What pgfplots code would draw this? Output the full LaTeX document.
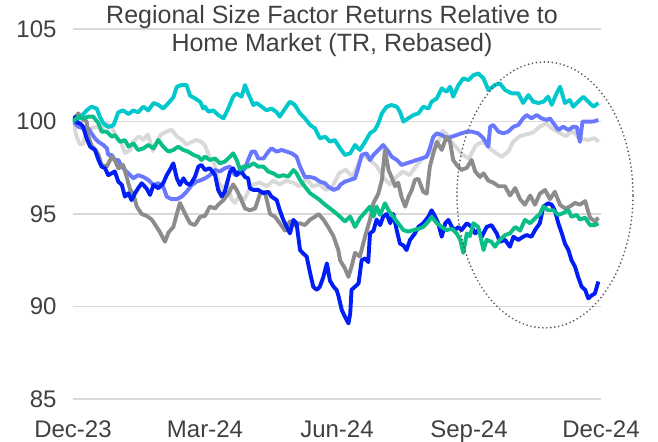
\documentclass[border=0pt]{standalone}
\usepackage{fontspec}
\setmainfont{Liberation Sans}
\usepackage{pgfplots}
\pgfplotsset{compat=1.18}

\definecolor{labgray}{RGB}{64,64,64}
\definecolor{gridgray}{RGB}{217,217,217}
\definecolor{ccyan}{RGB}{0,200,205}
\definecolor{cperi}{RGB}{105,120,255}
\definecolor{clgray}{RGB}{217,217,217}
\definecolor{cdgray}{RGB}{140,140,140}
\definecolor{cgreen}{RGB}{10,190,135}
\definecolor{cblue}{RGB}{0,30,245}
\definecolor{ringgray}{RGB}{90,90,90}

\begin{document}
\begin{tikzpicture}
\useasboundingbox (-73bp,-43bp) rectangle (585bp,399bp);
\begin{axis}[
    name=ax,
    at={(0,0)}, anchor=south west,
    scale only axis, width=528bp, height=370bp,
    xmin=0, xmax=12, ymin=85, ymax=105,
    xtick={0,3,6,9,12},
    xticklabels={Dec-23,Mar-24,Jun-24,Sep-24,Dec-24},
    ytick={85,90,95,100,105},
    axis line style={draw=none},
    major tick length=0pt,
    ymajorgrids,
    grid style={line width=1.5bp, color=gridgray},
    tick label style={font=\fontsize{24bp}{28bp}\selectfont, text=labgray},
    /pgf/number format/assume math mode=true,
    yticklabel style={xshift=-13bp},
    xticklabel style={yshift=-18bp},
    every axis plot/.append style={line width=3.9bp, line join=round, no markers},
]

% light gray
\addplot[clgray] coordinates {
(0,100.0) (0.08,99.2) (0.16,98.75) (0.23,98.8) (0.3,99.45) (0.42,99.65) (0.55,99.7) (0.65,99.6) (0.77,99.9) (0.88,99.7)
(1.0,99.1) (1.1,98.8) (1.18,98.3) (1.3,98.45) (1.37,98.9) (1.5,99.2) (1.6,99.0) (1.7,99.3) (1.82,98.4) (1.9,98.9)
(2.0,99.3) (2.13,99.45) (2.24,99.55) (2.36,99.2) (2.48,99.0) (2.58,98.75) (2.7,98.9) (2.81,99.0) (2.92,98.9)
(3.0,98.7) (3.1,98.1) (3.2,97.8) (3.3,96.8) (3.4,96.3) (3.5,96.7) (3.6,95.8) (3.68,95.6) (3.78,96.0) (3.9,95.8)
(4.0,96.3) (4.1,96.6) (4.25,96.7) (4.4,96.5) (4.55,96.8) (4.7,96.6) (4.85,96.8) (5.0,96.7) (5.15,96.5) (5.3,96.9)
(5.45,96.5) (5.6,96.6) (5.75,96.3) (5.9,96.5) (6.05,97.2) (6.2,97.4) (6.35,97.0) (6.5,97.8) (6.6,98.2) (6.75,97.9)
(6.9,97.6) (7.05,97.0) (7.2,96.6) (7.35,97.0) (7.5,97.3) (7.65,97.1) (7.8,97.6) (7.95,98.0) (8.1,98.3) (8.25,98.6)
(8.4,99.5) (8.5,99.3) (8.6,98.9) (8.75,98.5) (8.85,98.2) (9.0,98.0) (9.15,98.7) (9.3,98.9) (9.45,98.6) (9.6,98.3)
(9.75,98.1) (9.9,98.4) (10.0,98.9) (10.15,99.2) (10.3,99.3) (10.45,99.4) (10.6,99.7) (10.75,99.9) (10.9,99.6)
(11.05,99.4) (11.2,99.2) (11.35,99.5) (11.5,99.1) (11.7,99.0) (11.85,99.1) (11.95,98.9)
};

% periwinkle
\addplot[cperi] coordinates {
(0,100.0) (0.12,99.72) (0.23,99.63) (0.35,99.63) (0.42,99.36) (0.50,99.09) (0.58,98.9) (0.69,98.73) (0.77,98.55)
(0.80,98.2) (0.88,98.19) (0.95,97.92) (1.03,97.92) (1.11,97.56) (1.18,97.38) (1.30,97.1) (1.37,96.93) (1.48,97.1)
(1.60,97.0) (1.71,96.84) (1.83,96.57) (1.94,96.66) (2.05,96.48) (2.13,95.94) (2.24,95.8) (2.36,95.8) (2.47,95.94)
(2.58,96.2) (2.70,96.57) (2.81,96.75) (2.92,96.84) (3.0,96.93) (3.11,97.1) (3.23,97.38) (3.34,97.3) (3.45,97.47)
(3.57,97.56) (3.68,97.1) (3.80,97.2) (3.91,97.47) (3.98,97.92) (4.06,98.37) (4.14,98.37) (4.21,98.0) (4.33,98.0)
(4.44,98.37) (4.51,98.55) (4.63,98.37) (4.74,98.46) (4.86,98.37) (4.97,98.28) (5.08,98.1) (5.16,97.56) (5.27,97.0)
(5.39,97.0) (5.50,96.93) (5.61,96.75) (5.73,96.66) (5.80,96.48) (5.92,96.3) (6.03,96.4) (6.07,96.57) (6.18,96.75)
(6.30,96.84) (6.41,96.93) (6.49,97.56) (6.56,98.19) (6.67,98.28) (6.75,97.92) (6.83,98.19) (6.94,98.46) (7.05,98.73)
(7.17,98.37) (7.24,98.1) (7.36,97.92) (7.47,97.65) (7.58,97.74) (7.70,97.83) (7.81,97.92) (7.92,98.0) (8.04,98.1)
(8.11,98.55) (8.19,99.18) (8.27,99.36) (8.38,99.27) (8.49,99.09) (8.61,99.18) (8.72,99.27) (8.83,99.36) (8.95,99.45)
(9.06,99.45) (9.21,99.36) (9.33,99.09) (9.44,98.64) (9.48,99.72) (9.55,99.81) (9.67,99.45) (9.78,99.36) (9.89,99.45)
(10.01,99.72) (10.12,99.81) (10.23,100.17) (10.31,100.35) (10.42,100.17) (10.54,100.35) (10.65,100.17) (10.77,100.08)
(10.84,100.17) (10.92,99.9) (11.03,99.54) (11.14,99.72) (11.26,99.54) (11.37,99.72) (11.45,99.7) (11.52,98.9)
(11.58,100.0) (11.71,99.99) (11.83,100.0) (11.94,100.08)
};

% dark gray
\addplot[cdgray] coordinates {
(0,100.0) (0.12,100.44) (0.23,100.1) (0.31,100.0) (0.35,99.2) (0.42,98.7) (0.50,98.5) (0.58,98.2) (0.65,97.65)
(0.77,97.56) (0.88,98.1) (0.95,97.92) (1.03,97.47) (1.14,97.65) (1.22,97.0) (1.30,96.3) (1.37,96.1) (1.45,95.4)
(1.56,95.0) (1.67,94.9) (1.79,94.7) (1.90,94.3) (1.98,94.0) (2.09,93.5) (2.17,94.0) (2.28,94.3) (2.36,95.0)
(2.43,95.6) (2.55,95.0) (2.66,94.5) (2.77,94.4) (2.89,94.85) (3.0,94.9) (3.11,95.4) (3.23,95.3) (3.30,95.5)
(3.42,95.75) (3.53,96.1) (3.64,96.6) (3.72,96.3) (3.80,95.9) (3.91,95.3) (4.02,95.2) (4.14,95.3) (4.25,96.1)
(4.36,96.2) (4.48,95.0) (4.59,94.85) (4.70,94.5) (4.82,94.1) (4.93,94.6) (5.04,94.4) (5.16,94.5) (5.27,94.4)
(5.39,94.7) (5.50,94.85) (5.58,95.0) (5.69,94.7) (5.80,94.3) (5.92,93.8) (6.03,93.05) (6.07,92.5) (6.18,92.06)
(6.26,91.6) (6.33,92.15) (6.41,92.9) (6.52,92.7) (6.64,93.8) (6.75,94.7) (6.83,95.6) (6.94,96.1) (7.02,96.84)
(7.09,98.46) (7.17,97.38) (7.24,97.0) (7.32,96.5) (7.39,96.7) (7.47,95.9) (7.55,95.4) (7.62,95.9) (7.70,96.3)
(7.77,96.84) (7.85,96.9) (7.96,96.2) (8.04,96.1) (8.11,97.56) (8.19,98.28) (8.27,98.9) (8.38,98.46) (8.49,99.18)
(8.57,98.9) (8.64,97.92) (8.72,97.65) (8.83,97.38) (8.95,97.5) (9.06,97.92) (9.14,97.3) (9.25,97.0) (9.33,97.2)
(9.44,96.8) (9.55,96.7) (9.67,96.5) (9.82,96.5) (9.93,96.0) (10.05,96.4) (10.16,95.8) (10.27,95.5) (10.39,96.0)
(10.50,95.5) (10.61,96.1) (10.73,96.3) (10.84,95.8) (10.95,96.2) (11.07,95.5) (11.18,95.3) (11.29,95.4) (11.41,95.6)
(11.52,95.5) (11.64,95.7) (11.75,94.8) (11.86,94.6) (11.94,94.8)
};

% cyan
\addplot[ccyan] coordinates {
(0,100.0) (0.16,100.2) (0.31,100.6) (0.42,100.8) (0.54,100.7) (0.61,100.26) (0.69,99.9) (0.80,99.7) (0.92,99.8)
(1.03,100.5) (1.14,100.6) (1.26,100.4) (1.37,100.6) (1.48,100.5) (1.60,100.8) (1.71,100.6) (1.83,101.0) (1.94,100.9)
(2.05,100.7) (2.17,101.0) (2.28,101.3) (2.36,101.88) (2.47,101.97) (2.58,101.97) (2.66,101.4) (2.77,101.25)
(2.89,101.07) (2.96,100.7) (3.0,100.8) (3.08,100.53) (3.19,100.6) (3.30,100.35) (3.42,100.17) (3.53,100.71)
(3.64,101.34) (3.72,101.52) (3.83,101.34) (3.91,101.97) (3.98,101.52) (4.10,100.89) (4.17,101.0) (4.29,100.8)
(4.40,100.6) (4.51,100.7) (4.63,100.5) (4.70,100.26) (4.82,100.7) (4.93,101.07) (5.04,100.9) (5.16,100.44)
(5.27,100.17) (5.39,99.81) (5.50,99.63) (5.61,99.09) (5.73,99.18) (5.84,98.91) (5.95,99.0) (6.07,98.55)
(6.18,98.19) (6.30,98.28) (6.41,98.73) (6.52,98.46) (6.64,98.91) (6.75,99.36) (6.86,99.54) (6.94,99.9) (7.02,100.44)
(7.13,100.8) (7.24,100.89) (7.36,100.8) (7.43,100.53) (7.51,99.99) (7.62,100.17) (7.74,100.35) (7.85,100.44)
(7.96,100.8) (8.08,100.7) (8.15,101.07) (8.27,101.25) (8.38,101.79) (8.49,101.61) (8.57,101.88) (8.64,101.34)
(8.76,101.97) (8.87,102.33) (8.99,102.24) (9.10,102.5) (9.21,102.6) (9.33,102.33) (9.44,101.7) (9.59,101.97)
(9.70,102.06) (9.82,101.7) (9.97,101.52) (10.12,101.52) (10.23,101.0) (10.35,101.43) (10.46,101.07) (10.58,101.0)
(10.69,101.07) (10.80,101.34) (10.88,100.9) (10.99,101.52) (11.07,101.88) (11.18,101.0) (11.29,101.16) (11.37,100.8)
(11.48,101.07) (11.60,101.34) (11.71,101.07) (11.83,100.8) (11.94,101.0)
};

% blue
\addplot[cblue] coordinates {
(0,100.0) (0.05,100.26) (0.08,99.95) (0.16,99.9) (0.23,99.72) (0.31,99.09) (0.39,98.64) (0.50,98.46) (0.58,97.92)
(0.65,97.56) (0.73,97.47) (0.80,97.1) (0.88,97.2) (0.95,97.3) (1.03,96.75) (1.11,96.57) (1.18,95.94) (1.26,96.12)
(1.33,95.75) (1.41,96.12) (1.48,96.39) (1.56,96.66) (1.67,96.39) (1.75,96.03) (1.83,96.57) (1.94,96.39) (2.05,96.66)
(2.13,97.1) (2.20,97.38) (2.28,97.74) (2.36,96.93) (2.43,96.57) (2.51,96.93) (2.58,96.66) (2.66,96.57) (2.77,97.0)
(2.85,97.56) (2.92,97.65) (3.0,97.38) (3.11,97.47) (3.23,97.1) (3.30,96.3) (3.38,95.94) (3.45,96.2) (3.57,97.29)
(3.64,97.47) (3.72,97.1) (3.80,97.38) (3.91,97.0) (3.98,96.93) (4.02,96.39) (4.10,96.3) (4.21,96.3) (4.33,96.12)
(4.44,96.2) (4.51,95.94) (4.63,95.75) (4.70,95.2) (4.78,94.68) (4.86,94.3) (4.93,93.95) (5.01,94.68) (5.08,94.5)
(5.16,93.05) (5.23,92.87) (5.31,92.7) (5.39,91.8) (5.46,91.07) (5.54,90.9) (5.61,91.07) (5.69,91.6) (5.77,92.33)
(5.84,91.4) (5.92,91.07) (5.99,90.9) (6.03,90.6) (6.11,89.8) (6.18,89.45) (6.26,89.09) (6.30,89.6) (6.33,90.9)
(6.41,91.07) (6.49,91.25) (6.56,92.5) (6.64,92.6) (6.71,92.4) (6.75,93.95) (6.83,94.1) (6.90,94.7) (6.98,94.4)
(7.05,94.86) (7.13,95.0) (7.21,94.5) (7.28,95.0) (7.36,94.1) (7.43,93.4) (7.51,93.3) (7.58,93.05) (7.66,93.6)
(7.77,93.95) (7.85,94.3) (7.96,94.5) (8.08,94.86) (8.15,95.2) (8.23,94.86) (8.30,94.5) (8.38,93.77) (8.46,94.5)
(8.53,94.68) (8.61,94.3) (8.68,94.13) (8.76,94.3) (8.83,94.13) (8.95,94.5) (9.06,94.3) (9.14,93.95) (9.21,94.13)
(9.29,93.77) (9.40,94.3) (9.51,94.4) (9.63,93.95) (9.70,93.5) (9.82,93.6) (9.93,93.23) (10.01,93.77) (10.12,93.6)
(10.23,93.77) (10.31,93.86) (10.42,93.77) (10.50,94.13) (10.61,94.5) (10.69,95.4) (10.80,95.58) (10.88,95.5)
(10.95,95.2) (11.03,94.5) (11.11,93.95) (11.18,93.4) (11.26,93.05) (11.33,92.5) (11.41,92.15) (11.48,91.6)
(11.56,91.07) (11.64,90.9) (11.71,90.44) (11.79,90.6) (11.86,90.7) (11.94,91.35)
};

% green
\addplot[cgreen] coordinates {
(0,100.0) (0.12,100.26) (0.23,100.17) (0.35,100.26) (0.46,100.26) (0.58,99.9) (0.65,99.45) (0.77,99.45) (0.88,99.18)
(0.95,99.27) (1.07,98.9) (1.18,99.0) (1.26,98.64) (1.37,98.82) (1.48,98.46) (1.60,98.55) (1.71,98.73) (1.83,98.55)
(1.94,99.0) (2.05,98.64) (2.17,98.37) (2.28,98.46) (2.39,98.64) (2.51,98.46) (2.62,98.37) (2.74,98.19) (2.85,98.1)
(2.92,97.92) (3.0,98.1) (3.11,97.92) (3.23,98.0) (3.34,97.74) (3.45,97.83) (3.57,98.1) (3.64,98.28) (3.72,97.92)
(3.80,97.38) (3.87,97.56) (3.98,97.56) (4.10,97.74) (4.21,97.56) (4.33,97.56) (4.44,97.29) (4.55,97.2) (4.67,97.02)
(4.78,97.1) (4.89,97.02) (5.01,97.38) (5.08,97.2) (5.16,96.84) (5.27,96.48) (5.39,96.12) (5.50,95.94) (5.61,95.75)
(5.73,95.5) (5.84,95.3) (5.95,95.1) (6.07,94.85) (6.18,94.6) (6.30,94.86) (6.41,94.3) (6.52,94.77) (6.64,95.1)
(6.75,95.4) (6.83,94.86) (6.90,95.4) (6.98,94.95) (7.09,95.58) (7.17,95.2) (7.28,94.85) (7.39,94.5) (7.51,94.13)
(7.62,94.05) (7.74,94.13) (7.85,94.2) (7.96,94.3) (8.08,94.6) (8.15,94.85) (8.27,94.5) (8.38,94.3) (8.49,94.13)
(8.61,94.2) (8.72,93.95) (8.80,93.6) (8.87,92.9) (8.95,93.95) (9.02,93.8) (9.10,94.5) (9.21,94.3) (9.33,93.05)
(9.40,93.6) (9.51,93.5) (9.59,93.23) (9.70,93.6) (9.82,93.86) (9.93,93.95) (10.05,94.3) (10.16,94.1) (10.27,94.68)
(10.39,94.5) (10.50,94.77) (10.61,95.0) (10.69,95.4) (10.80,95.2) (10.92,95.2) (11.03,94.95) (11.14,95.05)
(11.26,95.2) (11.33,94.85) (11.45,94.95) (11.52,94.7) (11.64,94.8) (11.75,94.4) (11.86,94.4) (11.94,94.5)
};

\coordinate (ring) at (axis cs:10.727,96.03);
\end{axis}

% dotted ring around the last quarter
\draw[ringgray, line width=1.9bp, line cap=round, dash pattern=on 0bp off 4bp]
    (ring) ellipse [x radius=88bp, y radius=133bp];

% title, set over the top gridline
\begin{scope}[font=\fontsize{25bp}{29bp}\selectfont, text=labgray]
\node[anchor=base, inner sep=0pt] at ([xshift=-5bp, yshift=5bp]ax.north) {Regional Size Factor Returns Relative to};
\node[anchor=base, inner sep=0pt] at ([xshift=-5bp, yshift=-23bp]ax.north) {Home Market (TR, Rebased)};
\end{scope}
\end{tikzpicture}
\end{document}
